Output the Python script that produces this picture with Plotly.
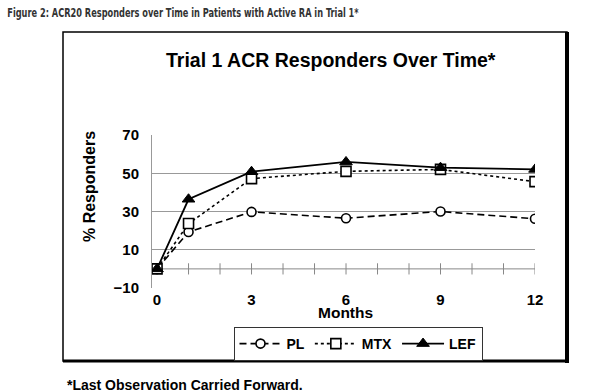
import plotly.graph_objects as go

months = [0, 1, 3, 6, 9, 12]
pl = [0, 19.3, 29.8, 26.5, 30.0, 26.2]
mtx = [0, 23.7, 47.2, 51.0, 52.0, 45.6]
lef = [0, 36.4, 50.8, 55.9, 52.9, 52.0]
axis_months = list(range(0, 13))
x_ticks = [0, 3, 6, 9, 12]
y_ticks = [-10, 10, 30, 50, 70]

W, H = 597, 392
L, R, T, B = 152, 62, 135, 104
PW, PH = W - L - R, H - T - B

def fx(p):
    return (p - L) / PW

def fy(p):
    return (H - B - p) / PH

FONT = "Liberation Sans, Arial, Helvetica, sans-serif"

fig = go.Figure()

# zero line with month tick marks
fig.add_trace(go.Scatter(
    x=axis_months, y=[0] * len(axis_months), mode="lines+markers",
    line=dict(color="#888888", width=1),
    marker=dict(symbol="line-ns-open", size=8, line=dict(color="#888888", width=1)),
    showlegend=False, hoverinfo="skip"))

fig.add_trace(go.Scatter(
    x=months, y=pl, name="PL", mode="lines+markers",
    line=dict(color="black", width=1.6, dash="7px,4px"),
    marker=dict(symbol="circle", size=9, color="white", line=dict(color="black", width=1.6))))
fig.add_trace(go.Scatter(
    x=months, y=mtx, name="MTX", mode="lines+markers",
    line=dict(color="black", width=1.6, dash="3px,3px"),
    marker=dict(symbol="square", size=10, color="white", line=dict(color="black", width=1.6))))
fig.add_trace(go.Scatter(
    x=months, y=lef, name="LEF", mode="lines+markers",
    line=dict(color="black", width=1.8),
    marker=dict(symbol="triangle-up", size=11, color="black", line=dict(color="black", width=1))))

fig.update_layout(
    width=W, height=H, margin=dict(l=L, r=R, t=T, b=B, autoexpand=False),
    paper_bgcolor="white", plot_bgcolor="white",
    font=dict(family=FONT, color="black"),
    showlegend=True,
    legend=dict(orientation="h", x=fx(358), y=fy(344), xanchor="center", yanchor="middle",
                bordercolor="#333333", borderwidth=1, bgcolor="white",
                font=dict(family=FONT, size=14, color="black", weight="bold"),
                itemwidth=42, tracegroupgap=0, itemclick=False),
    xaxis=dict(range=[-0.16, 12], tickvals=x_ticks, ticktext=[str(v) for v in x_ticks],
               showgrid=False, zeroline=False, showline=False, ticks="",
               tickfont=dict(family=FONT, size=15, weight="bold"), ticklabelstandoff=1),
    yaxis=dict(range=[-10, 70], tickvals=y_ticks, ticktext=["\u221210" if v < 0 else str(v) for v in y_ticks],
               showgrid=True, gridcolor="#999999", gridwidth=1, zeroline=False,
               showline=True, linecolor="#999999", linewidth=1, ticks="",
               tickfont=dict(family=FONT, size=15, weight="bold"), ticklabelstandoff=9),
)

annotations = [
    dict(text="Figure 2: ACR20 Responders over Time in Patients with Active RA in Trial 1*",
         x=fx(5), y=fy(12), xanchor="left", yanchor="middle", showarrow=False,
         font=dict(family="Liberation Sans Narrow, DejaVu Sans Condensed, Liberation Sans, sans-serif",
                   size=12.5, color="#333333", weight="bold")),
    dict(text="Trial 1 ACR Responders Over Time*", x=fx(331), y=fy(60),
         xanchor="center", yanchor="middle", showarrow=False,
         font=dict(family=FONT, size=19.5, weight="bold")),
    dict(text="% Responders", x=fx(89), y=fy(187), textangle=-90,
         xanchor="center", yanchor="middle", showarrow=False,
         font=dict(family=FONT, size=16, weight="bold")),
    dict(text="Months", x=fx(345), y=fy(312), xanchor="center", yanchor="middle",
         showarrow=False, font=dict(family=FONT, size=15.5, weight="bold")),
    dict(text="*Last Observation Carried Forward.", x=fx(65), y=fy(385),
         xanchor="left", yanchor="middle", showarrow=False,
         font=dict(family=FONT, size=14, weight="bold")),
]
for a in annotations:
    a["xref"] = "paper"
    a["yref"] = "paper"
fig.update_layout(annotations=annotations)

shapes = [
    dict(type="rect", x0=fx(63), x1=fx(567), y0=fy(361), y1=fy(32),
         line=dict(color="black", width=1.5), layer="below"),
    dict(type="line", x0=fx(567), x1=fx(567), y0=fy(363), y1=fy(32),
         line=dict(color="black", width=4)),
    dict(type="line", x0=fx(63), x1=fx(569), y0=fy(361), y1=fy(361),
         line=dict(color="black", width=3)),
]
for s in shapes:
    s["xref"] = "paper"
    s["yref"] = "paper"
fig.update_layout(shapes=shapes)

post = """
document.body.style.margin = '0';
var gd = document.getElementById('{plot_id}');
gd.querySelectorAll('g.annotation text').forEach(function(t){
  if (t.textContent.indexOf('Figure 2') === 0) {
    var b = t.getBBox();
    if (b.width > 352) {
      var s = 352 / b.width;
      var prev = t.getAttribute('transform') || '';
      t.setAttribute('transform', prev + ' translate(' + b.x + ',0) scale(' + s + ',1) translate(' + (-b.x) + ',0)');
    }
  }
});
"""
fig.write_html("out.html", post_script=post, config={"displayModeBar": False})
